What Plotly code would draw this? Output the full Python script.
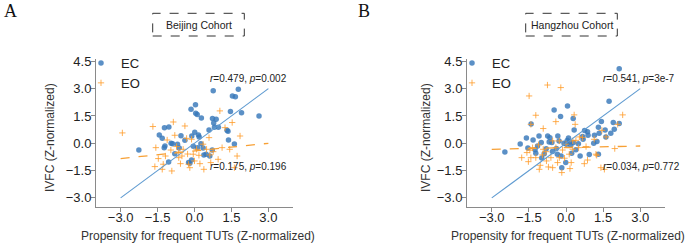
import plotly.graph_objects as go

# ---------------- data ----------------
tick_vals = [-3.0, -1.5, 0.0, 1.5, 3.0]
tick_text = ["\u22123.0", "\u22121.5", "0.0", "1.5", "3.0"]
ytick_vals = [-3.0, -1.5, 0.0, 1.5, 3.0, 4.5]
ytick_text = ["\u22123.0", "\u22121.5", "0.0", "1.5", "3.0", "4.5"]

bj_ec_x = [-2.26, -1.43, -1.22, -1.04, -1.31, -1.20, -1.23, -0.95, -0.89, -1.05, -0.80, -0.69, -0.55,
           -0.62, -0.39, -0.11, -0.14, 0.04, 0.05, 0.11, 0.28, 0.01, 0.16, 0.19, -0.05, 0.12, 0.26,
           0.35, 0.38, -0.24, -0.19, -0.12, 0.59, 0.73, 0.76, 0.88, 0.78, 0.81, 0.97, 0.72, 0.62,
           0.47, 1.32, 1.36, 1.38, 1.46, 1.62, 1.54, 1.66, 1.78, 1.91, 2.62]
bj_ec_y = [-0.37, 0.46, 0.86, 0.90, 0.27, -0.15, -0.24, 0.00, -0.02, -1.03, -0.57, -0.05, 0.42,
           -0.26, 0.16, 0.40, 1.87, 2.11, 1.65, 1.58, 1.39, 0.60, 0.46, 0.35, -0.16, -0.24, -0.02,
           -0.26, -0.64, -1.06, -1.10, -0.92, 0.73, 1.36, 2.88, 1.32, 1.12, 0.88, 0.88, -0.37, -0.70,
           -0.60, 0.71, 0.66, 0.18, 1.74, -0.04, 2.60, 2.56, 2.97, 1.68, 1.50]

bj_eo_x = [-2.93, -1.69, -1.57, -1.61, -1.47, -1.31, -1.27, -1.18, -1.11, -0.96, -0.92, -0.86, -0.80,
           -0.73, -0.64, -0.57, -0.39, -0.46, -0.32, -0.28, -0.24, -0.19, -0.12, -0.05, 0.00, 0.08,
           0.18, 0.22, 0.38, 0.35, 0.49, 0.59, 0.62, 0.76, 0.96, 1.03, 1.12, 1.24, 1.43, 1.53, 1.62,
           1.73, 1.85, 0.66, -0.51, -0.64]
bj_eo_y = [0.57, 0.92, -0.24, -1.28, -0.84, -1.43, -1.15, -0.70, 0.18, -0.37, -1.52, 1.17, 0.44,
           -0.18, -0.79, -1.12, 0.95, -0.33, 0.27, -0.59, -1.15, -1.34, 0.22, -0.60, -0.97, -0.33,
           -0.66, -1.12, -1.43, -0.05, -0.33, 0.31, -0.64, -0.46, -0.88, 1.78, -0.24, 0.86, -0.33,
           1.14, -1.34, -0.70, 0.40, -1.06, -0.70, -0.48]

hz_ec_x = [-2.47, -1.85, -1.60, -1.41, -1.54, -1.25, -1.22, -1.15, -1.33, -1.09, -0.98, -0.88, -0.74,
           -0.65, -0.68, -0.57, -0.48, -0.39, -0.33, -0.28, -0.22, -0.20, -0.17, -0.08, -0.01, 0.02,
           0.06, 0.10, 0.15, 0.19, 0.23, 0.29, 0.33, 0.50, 0.57, 0.67, 0.69, 0.87, 0.89, 0.94, 1.12,
           1.15, 1.31, 1.34, 1.43, 1.31, 1.61, 1.58, 1.74, 1.81, 1.91, 1.95, 2.15, 2.15, -0.80,
           -0.55, 0.40, 0.05, -1.00, 0.75, 1.25, -0.35, 0.30]
hz_ec_y = [-0.48, -0.04, 0.29, 1.06, -0.26, -0.35, -0.55, -0.15, 0.18, 0.40, -0.81, -0.57, 0.40,
           0.31, 0.07, 0.04, 1.83, -0.29, 0.40, 0.13, 1.47, -0.70, -1.34, 0.00, -1.06, -0.05,
           2.05, 0.29, 0.07, -0.11, -0.55, 1.36, 0.73, -0.02, -0.70, 0.37, 0.22, 0.64, 0.44, -0.62,
           0.00, 0.44, 0.88, 0.55, 1.19, -0.60, 0.35, 0.73, 2.31, 0.55, 1.14, 0.77, 4.10, 1.08,
           -0.30, -0.45, -0.35, 0.15, 0.05, 0.70, 0.10, -0.60, 0.05]

hz_eo_x = [-1.49, -0.75, -0.21, -1.22, -1.42, -0.92, -0.41, 0.33, 0.37, 0.54, 1.45, 1.62, 2.29,
           2.09, 1.97, 1.24, 0.81, 0.87, 0.74, 0.21, 0.16, -0.17, -0.54, -0.71, -1.08, -1.04,
           -1.52, -1.42, -1.79, -1.58, -1.35, -1.11, -0.92, -0.81, -0.54, -0.41, -0.27, -0.14,
           0.00, 0.13, 0.27, 0.40, 0.51, 0.67, 1.14, 1.21, 1.41, 1.55, -0.61, -0.79, -0.27,
           -0.34, -1.22, -1.46, -0.95, -0.06, 0.27]
hz_eo_y = [2.60, 3.20, 3.06, 1.54, 1.04, 0.81, 1.19, 1.56, 1.04, 0.35, 0.71, 0.35, 1.56,
           1.04, -0.29, -0.66, -0.18, -0.92, -1.12, -1.06, -1.39, -1.61, -1.34, -1.30, -1.43, -1.21,
           -1.01, -0.79, -0.79, -0.51, -0.24, -0.09, -0.33, -0.46, 0.13, -0.24, 0.13, -0.37,
           -0.05, -0.60, -0.33, 0.16, -0.24, 0.31, 0.22, -0.60, -1.34, -1.43, -0.79, -0.97, -0.79,
           -1.06, -0.79, -0.38, -0.64, -0.82, 0.13]

fit_x = [-3.0, 3.0]
bj_ec_fit = [-3.0, 3.0]
bj_eo_fit = [-0.84, 0.0]
hz_ec_fit = [-3.0, 3.0]
hz_eo_fit = [-0.33, -0.15]

cohorts = ["Beijing Cohort", "Hangzhou Cohort"]
panel_letters = ["A", "B"]
stats_ec = ["<i>r</i>=0.479, <i>p</i>=0.002", "<i>r</i>=0.541, <i>p</i>=3e-7"]
stats_eo = ["<i>r</i>=0.175, <i>p</i>=0.196", "<i>r</i>=0.034, <i>p</i>=0.772"]
series_names = ["EC", "EO"]
x_title = "Propensity for frequent TUTs (Z-normalized)"
y_title = "IVFC (Z-normalized)"

# ---------------- styling ----------------
W, H = 685, 243
FONT = "Liberation Sans, Arial, sans-serif"
EC_COLOR = "rgba(55,120,185,0.82)"
EO_COLOR = "rgba(255,155,40,0.8)"
EC_LINE = "#5f9bd1"
EO_LINE = "#f7a035"
AXIS_COLOR = "#8a8a8a"


def px_x(p):
    return p / W


def px_y(p):
    return 1 - p / H


fig = go.Figure()

panels = [
    dict(ec=(bj_ec_x, bj_ec_y), eo=(bj_eo_x, bj_eo_y), ecf=bj_ec_fit, eof=bj_eo_fit,
         xa="x", ya="y", legend="legend"),
    dict(ec=(hz_ec_x, hz_ec_y), eo=(hz_eo_x, hz_eo_y), ecf=hz_ec_fit, eof=hz_eo_fit,
         xa="x2", ya="y2", legend="legend2"),
]

for p in panels:
    fig.add_trace(go.Scatter(x=p["ec"][0], y=p["ec"][1], mode="markers", name=series_names[0],
                             marker=dict(symbol="circle", size=5.5, color=EC_COLOR, line=dict(width=0)),
                             xaxis=p["xa"], yaxis=p["ya"], legend=p["legend"]))
    fig.add_trace(go.Scatter(x=p["eo"][0], y=p["eo"][1], mode="markers", name=series_names[1],
                             marker=dict(symbol="cross-thin", size=4.5, color=EO_COLOR,
                                         line=dict(width=1.0, color=EO_COLOR)),
                             xaxis=p["xa"], yaxis=p["ya"], legend=p["legend"]))
    fig.add_trace(go.Scatter(x=fit_x, y=p["ecf"], mode="lines", showlegend=False,
                             line=dict(color=EC_LINE, width=1.1),
                             xaxis=p["xa"], yaxis=p["ya"]))
    fig.add_trace(go.Scatter(x=fit_x, y=p["eof"], mode="lines", showlegend=False,
                             line=dict(color=EO_LINE, width=1.3, dash="dash"),
                             xaxis=p["xa"], yaxis=p["ya"]))

ydom = [1 - 207 / H, 1 - 59 / H]
xdoms = [[px_x(96), px_x(293)], [px_x(467), px_x(665)]]

common_x = dict(range=[-4.0, 4.0], tickvals=tick_vals, ticktext=tick_text, showgrid=False,
                zeroline=False, showline=True, linecolor=AXIS_COLOR, linewidth=1,
                ticks="outside", ticklen=4, tickwidth=1, tickcolor=AXIS_COLOR, automargin=False,
                ticklabelstandoff=-6,
                tickfont=dict(family=FONT, size=13, color="#222"))
common_y = dict(range=[-3.5, 4.63], tickvals=ytick_vals, ticktext=ytick_text, showgrid=False,
                zeroline=False, showline=True, linecolor=AXIS_COLOR, linewidth=1,
                ticks="outside", ticklen=4, tickwidth=1, tickcolor=AXIS_COLOR, automargin=False,
                ticklabelstandoff=-3,
                tickfont=dict(family=FONT, size=13, color="#222"),
                domain=ydom)

fig.update_layout(
    width=W, height=H, margin=dict(l=0, r=0, t=0, b=0, autoexpand=False),
    paper_bgcolor="white", plot_bgcolor="white",
    font=dict(family=FONT, color="#222"),
    xaxis=dict(common_x, domain=xdoms[0], anchor="y"),
    yaxis=dict(common_y, anchor="x"),
    xaxis2=dict(common_x, domain=xdoms[1], anchor="y2"),
    yaxis2=dict(common_y, anchor="x2"),
    legend=dict(x=px_x(81), y=px_y(48), xanchor="left", yanchor="top",
                bgcolor="rgba(0,0,0,0)", font=dict(family=FONT, size=13, color="#222"),
                itemwidth=30, tracegroupgap=0),
    legend2=dict(x=px_x(452), y=px_y(48), xanchor="left", yanchor="top",
                 bgcolor="rgba(0,0,0,0)", font=dict(family=FONT, size=13, color="#222"),
                 itemwidth=30, tracegroupgap=0),
    showlegend=True,
)

# axis titles (paper-positioned)
x_title_centers = [198, 568]
y_title_centers = [50, 426]
for i in range(2):
    fig.add_annotation(x=px_x(x_title_centers[i]), y=px_y(236), xref="paper", yref="paper",
                       text=x_title, showarrow=False, xanchor="center", yanchor="middle",
                       font=dict(family=FONT, size=12, color="#333"))
    fig.add_annotation(x=px_x(y_title_centers[i]), y=px_y(137), xref="paper", yref="paper",
                       text=y_title, showarrow=False, xanchor="center", yanchor="middle",
                       textangle=-90, font=dict(family=FONT, size=12, color="#333"))

# stats annotations
for i, xa in enumerate(["x", "x2"]):
    ya = "y" if i == 0 else "y2"
    xleft = 0.54 if i == 0 else 1.41
    fig.add_annotation(x=xleft, y=3.55, xref=xa, yref=ya, text=stats_ec[i], showarrow=False,
                       xanchor="left", yanchor="middle",
                       font=dict(family=FONT, size=10, color="#222"))
    fig.add_annotation(x=xleft, y=-1.29, xref=xa, yref=ya, text=stats_eo[i], showarrow=False,
                       xanchor="left", yanchor="middle",
                       font=dict(family=FONT, size=10, color="#222"))

# cohort title boxes
boxes = [(152.7, 13.3, 244.3, 36.0), (525.7, 13.3, 617.3, 36.0)]
for i, (x0, y0, x1, y1) in enumerate(boxes):
    fig.add_shape(type="rect", xref="paper", yref="paper",
                  x0=px_x(x0), x1=px_x(x1), y0=px_y(y1), y1=px_y(y0),
                  line=dict(color="#333", width=1, dash="dash"))
    fig.add_annotation(x=px_x((x0 + x1) / 2), y=px_y((y0 + y1) / 2), xref="paper", yref="paper",
                       text=cohorts[i], showarrow=False, xanchor="center", yanchor="middle",
                       font=dict(family=FONT, size=10.5, color="#222"))

# panel letters
letter_pos = [(2, 11), (356, 11)]
for i, (lx, ly) in enumerate(letter_pos):
    fig.add_annotation(x=px_x(lx), y=px_y(ly), xref="paper", yref="paper", text=panel_letters[i],
                       showarrow=False, xanchor="left", yanchor="middle",
                       font=dict(family="Liberation Serif, Times New Roman, serif", size=18,
                                 color="#111"))

fig.write_html("out.html", config={"displayModeBar": False},
               post_script="document.body.style.margin='0px';document.body.style.overflow='hidden';")
